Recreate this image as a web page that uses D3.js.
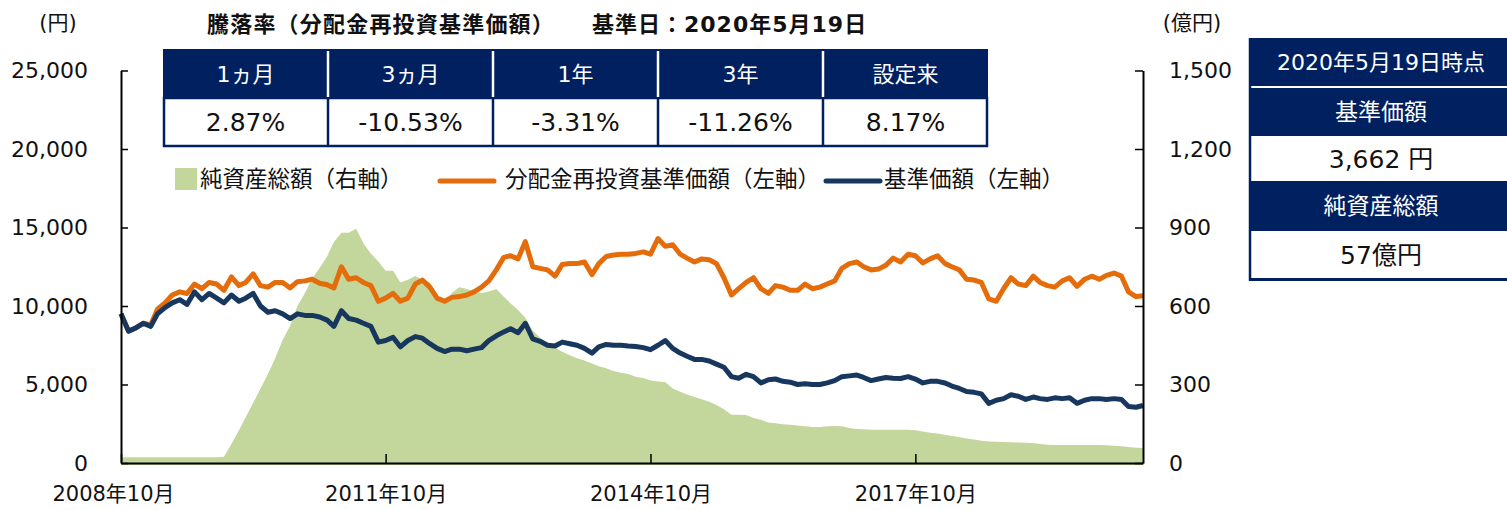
<!DOCTYPE html>
<html><head><meta charset="utf-8">
<script src="https://cdn.jsdelivr.net/npm/d3@7"></script>
<style>
body{margin:0;background:#fff;}
svg text{font-family:"DejaVu Sans","Noto Sans CJK JP",sans-serif;fill:#111;}
</style></head><body>
<svg id="chart" width="1507" height="510"></svg>
<script>
// ---------------- data ----------------
const startDate = "2008-10-20";
const endDate = "2020-05-19";
// monthly readings, 2008-10 .. 2020-05 (円)
const navValues = [9500,8400,8600,8900,8700,9500,9900,10200,10400,10100,
 10900,10400,10800,10500,10200,10700,10300,10500,10800,10000,
 9600,9700,9500,9200,9500,9400,9400,9300,9100,8700,
 9700,9200,9100,8900,8700,7700,7800,8000,7400,7800,
 8050,7950,7600,7300,7100,7250,7250,7150,7250,7350,
 7800,8100,8350,8550,8300,8900,7900,7750,7500,7450,
 7700,7600,7500,7300,7000,7400,7550,7500,7500,7450,
 7420,7350,7220,7500,7800,7300,7000,6800,6600,6600,
 6500,6300,6100,5500,5400,5650,5500,5100,5300,5350,
 5200,5150,5000,5050,5000,5000,5100,5250,5500,5550,
 5600,5450,5250,5350,5450,5400,5380,5500,5350,5100,
 5200,5200,5100,4900,4750,4550,4500,4400,3800,4000,
 4100,4350,4250,4050,4200,4100,4050,4150,4100,4150,
 3800,4000,4100,4100,4050,4100,4050,3600,3550,3662];
const reinvestValues = [9500,8400,8600,8900,8800,9800,10200,10700,10900,10800,
 11400,11100,11500,11400,11000,11850,11300,11500,12050,11300,
 11200,11500,11500,11150,11550,11600,11700,11450,11350,11150,
 12500,11700,11800,11500,11300,10300,10500,10800,10300,10500,
 11400,11650,11200,10500,10300,10550,10600,10700,10900,11200,
 11600,12300,13100,13200,13000,14100,12500,12400,12300,11900,
 12650,12700,12700,12800,12000,12700,13150,13250,13300,13300,
 13350,13450,13300,14300,13800,13900,13300,13050,12800,13000,
 12950,12700,11800,10700,11100,11500,11800,11100,10800,11300,
 11200,11000,11000,11400,11100,11200,11400,11600,12400,12700,
 12800,12500,12300,12350,12600,13050,12800,13300,13200,12750,
 13000,13200,12700,12500,12300,11700,11650,11500,10450,10300,
 11100,11800,11400,11300,11900,11500,11300,11200,11600,11800,
 11250,11700,11900,11700,11950,12100,11900,10900,10600,10650];
// 億円
const assetValues = [22,22,22,22,22,22,22,22,22,22,
 22,22,22,22,24,73,125,175,230,284,
 340,400,470,525,600,650,705,745,790,845,
 880,880,895,840,800,770,735,735,690,700,
 715,700,690,640,615,650,672,665,655,650,
 655,665,635,610,585,555,505,480,453,440,
 425,412,400,392,380,370,362,352,345,340,
 330,325,315,311,310,285,272,262,252,244,
 234,222,205,184,184,183,172,165,155,152,
 148,146,143,140,138,138,140,141,140,134,
 130,129,127,127,127,127,127,127,125,120,
 116,113,108,103,98,94,90,85,82,81,
 80,79,78,77,76,73,70,69,69,69,
 69,69,69,69,68,66,64,61,58,57];

const xTickDates = ["2008-10-20","2011-10-20","2014-10-20","2017-10-20"];
const xTickLabels = ["2008年10月","2011年10月","2014年10月","2017年10月"];
const leftTicks = [0,5000,10000,15000,20000,25000];
const rightTicks = [0,300,600,900,1200,1500];
const seriesNames = ["純資産総額（右軸）","分配金再投資基準価額（左軸）","基準価額（左軸）"];
const seriesColors = ["#c3d69b","#e46c0a","#17375e"];
const periodLabels = ["1ヵ月","3ヵ月","1年","3年","設定来"];
const periodReturns = ["2.87%","-10.53%","-3.31%","-11.26%","8.17%"];
const titleParts = ["騰落率（分配金再投資基準価額）","基準日：2020年5月19日"];
const infoRows = ["2020年5月19日時点","基準価額","3,662 円","純資産総額","57億円"];

// ---------------- build ----------------
const parse = d3.timeParse("%Y-%m-%d");
const t0 = parse(startDate), t1 = parse(endDate);
const dates = navValues.map((v,i)=> i===navValues.length-1 ? t1 : d3.timeMonth.offset(t0,i));
const rows = dates.map((d,i)=>({date:d, nav:navValues[i], re:reinvestValues[i], asset:assetValues[i]}));

const svg = d3.select("#chart");
const NAVY = "#002060";

const x = d3.scaleTime().domain([t0,t1]).range([121,1143]);
const yL = d3.scaleLinear().domain([0,25000]).range([463,70.5]);
const yR = d3.scaleLinear().domain([0,1500]).range([463,70.5]);

// area
svg.append("path").datum(rows)
  .attr("fill",seriesColors[0])
  .attr("d", d3.area().x(d=>x(d.date)).y0(yR(0)+2).y1(d=>yR(d.asset)));

// lines
svg.append("path").datum(rows).attr("fill","none").attr("stroke",seriesColors[1])
  .attr("stroke-width",5).attr("stroke-linejoin","round")
  .attr("d", d3.line().x(d=>x(d.date)).y(d=>yL(d.re)));
svg.append("path").datum(rows).attr("fill","none").attr("stroke",seriesColors[2])
  .attr("stroke-width",5).attr("stroke-linejoin","round")
  .attr("d", d3.line().x(d=>x(d.date)).y(d=>yL(d.nav)));

// axes
function styleAxis(g, fs){
  g.selectAll("path.domain").attr("stroke","#000").attr("stroke-width",2);
  g.selectAll(".tick line").attr("stroke","#000").attr("stroke-width",1.5);
  g.selectAll(".tick text").attr("font-size",fs).attr("font-family",null).style("fill","#111");
}
const gL = svg.append("g").attr("transform","translate(121,0)")
  .call(d3.axisLeft(yL).tickValues(leftTicks).tickSize(-7).tickSizeOuter(0).tickPadding(33).tickFormat(d3.format(",")));
styleAxis(gL,22);
const gR = svg.append("g").attr("transform","translate(1143,0)")
  .call(d3.axisRight(yR).tickValues(rightTicks).tickSize(-8).tickSizeOuter(0).tickPadding(26).tickFormat(d3.format(",")));
styleAxis(gR,22);
const gB = svg.append("g").attr("transform","translate(0,463)")
  .call(d3.axisBottom(x).tickValues(xTickDates.map(parse)).tickSize(-9).tickSizeOuter(0).tickPadding(23)
    .tickFormat((d,i)=>xTickLabels[i]));
styleAxis(gB,21);
gB.selectAll(".tick text").filter((d,i)=>i===0).attr("dx",-8);

// unit labels
svg.append("text").attr("x",58).attr("y",30).attr("text-anchor","middle").attr("font-size",21).text("(円)");
svg.append("text").attr("x",1192).attr("y",30).attr("text-anchor","middle").attr("font-size",21).text("(億円)");

// title
svg.append("text").attr("x",207).attr("y",32).attr("font-size",22).attr("font-weight","bold")
  .style("letter-spacing","1.2px").text(titleParts[0]);
svg.append("text").attr("x",592).attr("y",32).attr("font-size",22).attr("font-weight","bold")
  .style("letter-spacing","1px").text(titleParts[1]);

// table
const col = d3.scaleBand().domain(periodLabels).range([163,988]);
const tg = svg.append("g");
tg.append("rect").attr("x",163).attr("y",49).attr("width",825).attr("height",49).attr("fill",NAVY);
tg.append("rect").attr("x",164).attr("y",98).attr("width",823).attr("height",48)
  .attr("fill","#fff").attr("stroke",NAVY).attr("stroke-width",2.5);
periodLabels.forEach((p,i)=>{
  if(i>0){
    tg.append("line").attr("x1",col(p)).attr("x2",col(p)).attr("y1",51).attr("y2",97)
      .attr("stroke","#fff").attr("stroke-width",2.5);
    tg.append("line").attr("x1",col(p)).attr("x2",col(p)).attr("y1",98).attr("y2",147)
      .attr("stroke",NAVY).attr("stroke-width",2.5);
  }
  tg.append("text").attr("x",col(p)+col.bandwidth()/2).attr("y",74).attr("dy","0.36em")
    .attr("text-anchor","middle").attr("font-size",22).style("fill","#fff").text(p);
  tg.append("text").attr("x",col(p)+col.bandwidth()/2).attr("y",122).attr("dy","0.36em")
    .attr("text-anchor","middle").attr("font-size",25).style("fill","#111").text(periodReturns[i]);
});

// legend
const lg = svg.append("g");
const legX = [175,440,826];
const legT = [200,505,884];
lg.append("rect").attr("x",legX[0]).attr("y",168).attr("width",22).attr("height",22).attr("fill",seriesColors[0]);
[0,1,2].forEach(k=>{
  if(k>0) lg.append("line").attr("x1",legX[k]).attr("x2",legX[k]+54).attr("y1",181).attr("y2",181)
    .attr("stroke",seriesColors[k]).attr("stroke-width",5).attr("stroke-linecap","round");
  lg.append("text").attr("x",legT[k]).attr("y",179).attr("dy","0.36em").attr("font-size",22.5).text(seriesNames[k]);
});

// right info panel
const pg = svg.append("g");
const px = 1249, pw = 270, pcx = 1381;
const bands = [[38,48,true,22],[88,48,true,23],[136,45,false,25],[181,50,true,23],[231,47,false,25]];
bands.forEach((b,i)=>{
  pg.append("rect").attr("x",px).attr("y",b[0]).attr("width",pw).attr("height",b[1])
    .attr("fill", b[2]?NAVY:"#fff");
  pg.append("text").attr("x",pcx).attr("y",b[0]+b[1]/2).attr("dy","0.36em").attr("text-anchor","middle")
    .attr("font-size", b[3]).style("fill", b[2]?"#fff":"#111").text(infoRows[i]);
});
pg.append("line").attr("x1",px+1).attr("x2",px+1).attr("y1",38).attr("y2",281).attr("stroke",NAVY).attr("stroke-width",2.5);
pg.append("line").attr("x1",px).attr("x2",px+pw).attr("y1",279.5).attr("y2",279.5).attr("stroke",NAVY).attr("stroke-width",3);
</script>
</body></html>
